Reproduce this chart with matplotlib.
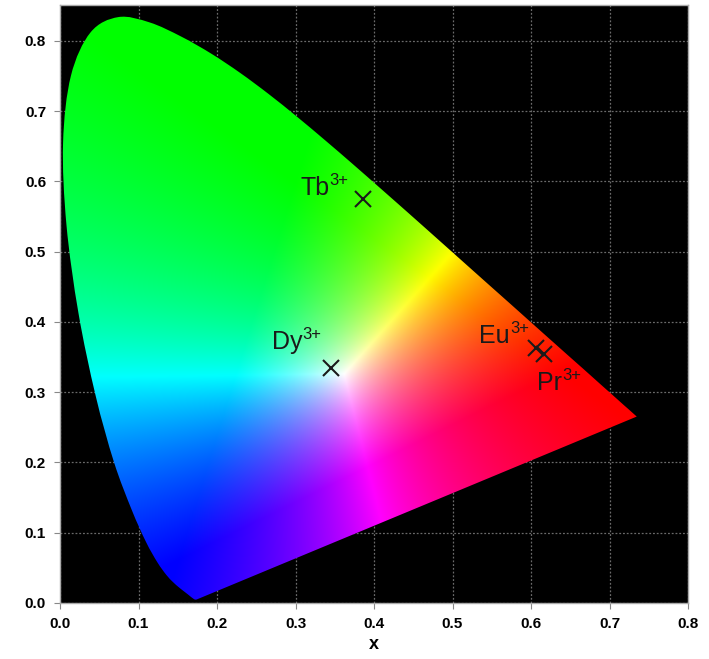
import numpy as np
import matplotlib
matplotlib.use("Agg")
import matplotlib.pyplot as plt
from matplotlib.patches import PathPatch
from matplotlib.path import Path

plt.rcParams['font.family'] = ['Liberation Sans', 'DejaVu Sans']

# CIE 1931 2-degree spectral locus chromaticity (380-700 nm, 5 nm steps)
locus_x = [0.1741, 0.1740, 0.1738, 0.1736, 0.1733, 0.1730, 0.1726, 0.1721, 0.1714, 0.1703,
           0.1689, 0.1669, 0.1644, 0.1611, 0.1566, 0.1510, 0.1440, 0.1355, 0.1241, 0.1096,
           0.0913, 0.0687, 0.0454, 0.0235, 0.0082, 0.0039, 0.0139, 0.0389, 0.0743, 0.1142,
           0.1547, 0.1929, 0.2296, 0.2658, 0.3016, 0.3373, 0.3731, 0.4087, 0.4441, 0.4788,
           0.5125, 0.5448, 0.5752, 0.6029, 0.6270, 0.6482, 0.6658, 0.6801, 0.6915, 0.7006,
           0.7079, 0.7140, 0.7190, 0.7230, 0.7260, 0.7283, 0.7300, 0.7311, 0.7320, 0.7327,
           0.7334, 0.7340, 0.7344, 0.7346, 0.7347]
locus_y = [0.0050, 0.0050, 0.0049, 0.0049, 0.0048, 0.0048, 0.0048, 0.0048, 0.0051, 0.0058,
           0.0069, 0.0086, 0.0109, 0.0138, 0.0177, 0.0227, 0.0297, 0.0399, 0.0578, 0.0868,
           0.1327, 0.2007, 0.2950, 0.4127, 0.5384, 0.6548, 0.7502, 0.8120, 0.8338, 0.8262,
           0.8059, 0.7816, 0.7543, 0.7243, 0.6923, 0.6589, 0.6245, 0.5896, 0.5547, 0.5202,
           0.4866, 0.4544, 0.4242, 0.3965, 0.3725, 0.3514, 0.3340, 0.3197, 0.3083, 0.2993,
           0.2920, 0.2859, 0.2809, 0.2770, 0.2740, 0.2717, 0.2700, 0.2689, 0.2680, 0.2673,
           0.2666, 0.2660, 0.2656, 0.2654, 0.2653]

# Emission colour coordinates
ions = ["Tb", "Dy", "Eu", "Pr"]
ion_x = [0.386, 0.345, 0.607, 0.616]
ion_y = [0.575, 0.335, 0.363, 0.355]

x_ticks = [0.0, 0.1, 0.2, 0.3, 0.4, 0.5, 0.6, 0.7, 0.8]
y_ticks = [0.0, 0.1, 0.2, 0.3, 0.4, 0.5, 0.6, 0.7, 0.8]

# rendering white point used for the colour field
white_xy = (0.362, 0.326)

fig = plt.figure(figsize=(7.09, 6.59), dpi=100)
ax = fig.add_axes([60/709, 1-603/659, 628/709, 598/659])
ax.set_facecolor('black')
ax.set_xlim(0, 0.8)
ax.set_ylim(0, 0.851)

# ---- colour field ----
M = np.array([[3.2406, -1.5372, -0.4986],
              [-0.9689, 1.8758, 0.0415],
              [0.0557, -0.2040, 1.0570]])


def xy_to_rgb_lin(x, y):
    y = np.maximum(y, 1e-4)
    X = x / y
    Z = (1 - x - y) / y
    return np.stack([M[i, 0]*X + M[i, 1] + M[i, 2]*Z for i in range(3)], axis=-1)


nx, ny = 900, 950
gx = np.linspace(0, 0.8, nx)
gy = np.linspace(0, 0.851, ny)
XX, YY = np.meshgrid(gx, gy)
rgb = xy_to_rgb_lin(XX, YY)
wrgb = xy_to_rgb_lin(np.array(white_xy[0]), np.array(white_xy[1]))
rgb = rgb / wrgb
rgb = np.clip(rgb, 0, None)
mx = rgb.max(axis=-1, keepdims=True)
mx[mx == 0] = 1
rgb = np.clip(rgb / mx, 0, 1)

# smooth outline (Catmull-Rom through the locus points, straight purple line)
P = np.column_stack([locus_x, locus_y])
Pe = np.vstack([P[0], P, P[-1]])
verts = [P[0]]
codes = [Path.MOVETO]
for i in range(1, len(Pe) - 2):
    p0, p1, p2, p3 = Pe[i-1], Pe[i], Pe[i+1], Pe[i+2]
    c1 = p1 + (p2 - p0) / 6.0
    c2 = p2 - (p3 - p1) / 6.0
    verts += [c1, c2, p2]
    codes += [Path.CURVE4] * 3
verts += [P[0], P[0]]
codes += [Path.LINETO, Path.CLOSEPOLY]
outline = PathPatch(Path(np.array(verts), codes), facecolor='none',
                    edgecolor='none', transform=ax.transData)
ax.add_patch(outline)

im = ax.imshow(rgb, origin='lower', extent=[0, 0.8, 0, 0.851], aspect='auto',
               interpolation='bilinear', zorder=2)
im.set_clip_path(outline)

ax.grid(True, color='#6a6a6a', linestyle=(0, (1.5, 1.5)), linewidth=0.9, zorder=1)
ax.set_axisbelow(True)

ax.plot(ion_x, ion_y, linestyle='none', marker='x', markersize=11,
        markeredgewidth=1.5, color='#1a1a1a', zorder=4)

label_pos = {
    "Tb": (0.3066, 0.581),
    "Dy": (0.2697, 0.361),
    "Eu": (0.534, 0.3705),
    "Pr": (0.608, 0.303),
}
for name in ions:
    lx, ly = label_pos[name]
    t = ax.text(lx, ly, name, fontsize=18, color='#1a1a1a',
                ha='left', va='baseline', zorder=5)
    ax.annotate("3+", xy=(1.0, 0.5), xycoords=t, fontsize=12, color='#1a1a1a',
                ha='left', va='bottom', zorder=5)

ax.set_xticks(x_ticks)
ax.set_yticks(y_ticks)
ax.set_xticklabels([f"{v:.1f}" for v in x_ticks], fontweight='bold', fontsize=11)
ax.set_yticklabels([f"{v:.1f}" for v in y_ticks], fontweight='bold', fontsize=11)
ax.tick_params(length=4, width=0.8, color='#888888', pad=6)
ax.set_xlabel('x', fontweight='bold', fontsize=13, labelpad=4)
for s in ax.spines.values():
    s.set_color('#aaaaaa')
    s.set_linewidth(1)

fig.savefig('out.png', dpi=100, facecolor='white')
